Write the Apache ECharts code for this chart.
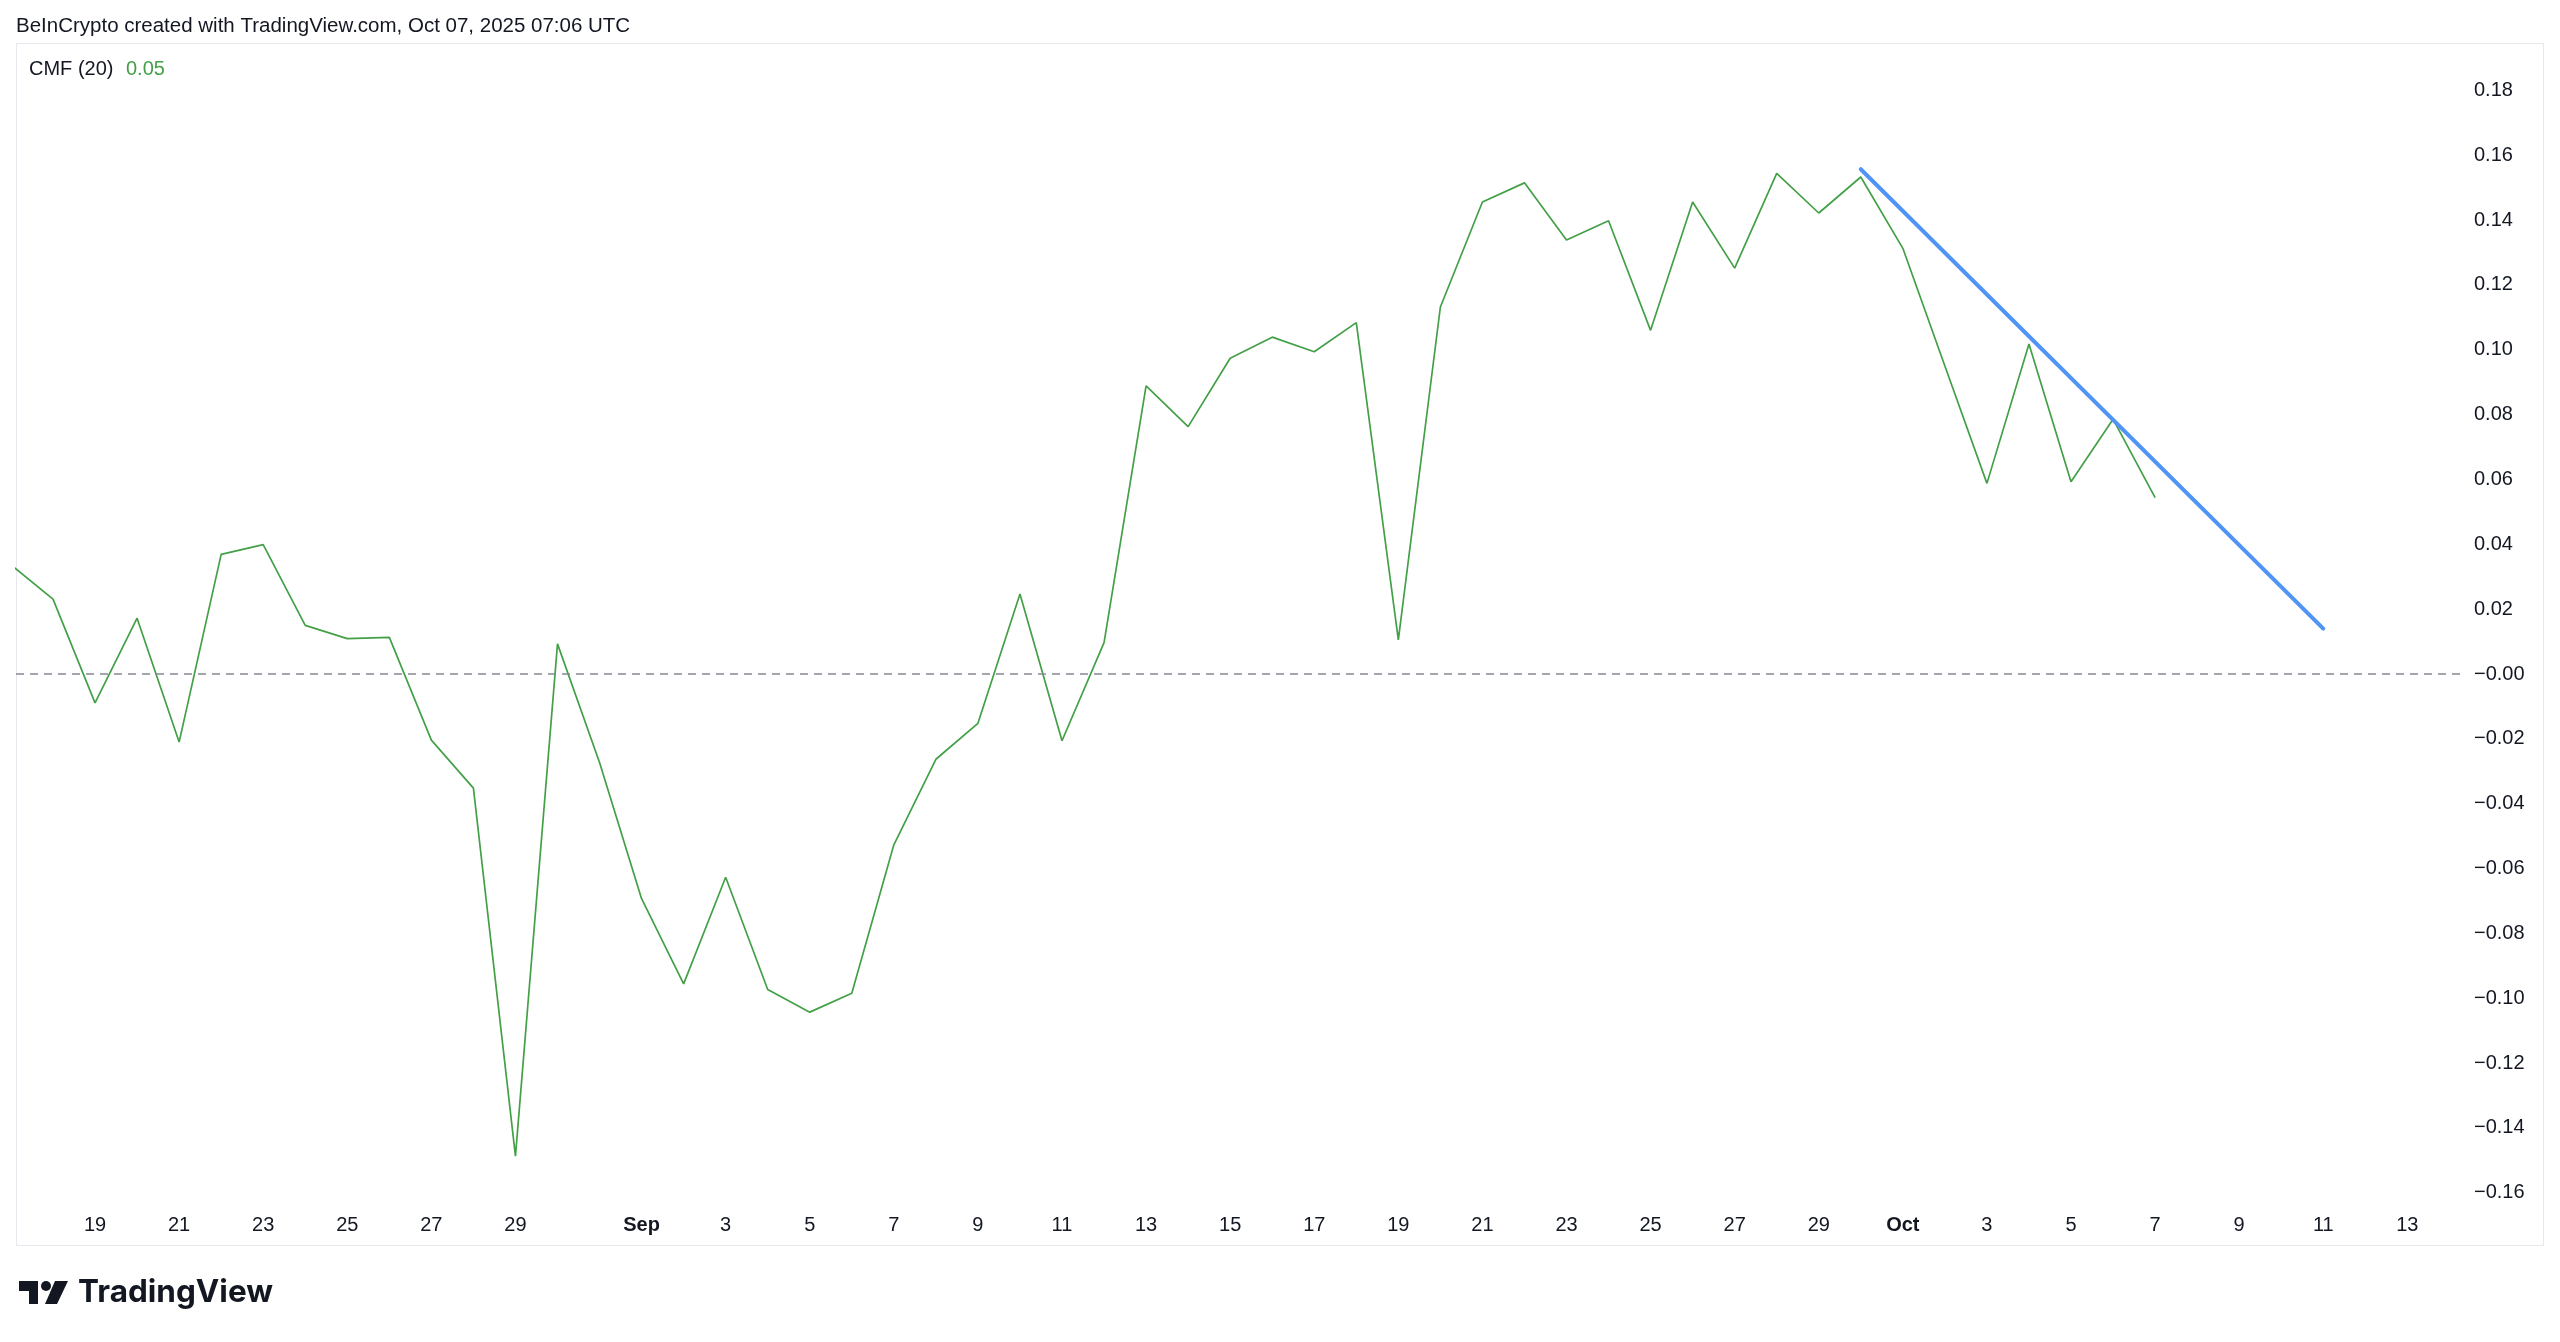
<!DOCTYPE html>
<html>
<head>
<meta charset="utf-8">
<script src="https://cdn.jsdelivr.net/npm/echarts@6/dist/echarts.min.js"></script>
<style>
html,body{margin:0;padding:0;background:#ffffff;}
#chart{width:2560px;height:1342px;}
</style>
</head>
<body>
<div id="chart"></div>
<script>
// ---- data ----
const dates = [
  '2025-08-17','2025-08-18','2025-08-19','2025-08-20','2025-08-21','2025-08-22','2025-08-23','2025-08-24',
  '2025-08-25','2025-08-26','2025-08-27','2025-08-28','2025-08-29','2025-08-30','2025-08-31',
  '2025-09-01','2025-09-02','2025-09-03','2025-09-04','2025-09-05','2025-09-06','2025-09-07','2025-09-08',
  '2025-09-09','2025-09-10','2025-09-11','2025-09-12','2025-09-13','2025-09-14','2025-09-15','2025-09-16',
  '2025-09-17','2025-09-18','2025-09-19','2025-09-20','2025-09-21','2025-09-22','2025-09-23','2025-09-24',
  '2025-09-25','2025-09-26','2025-09-27','2025-09-28','2025-09-29','2025-09-30',
  '2025-10-01','2025-10-02','2025-10-03','2025-10-04','2025-10-05','2025-10-06','2025-10-07'
];
const cmfValues = [
  0.0337, 0.0231, -0.0089, 0.0172, -0.0210, 0.0369, 0.0399, 0.0150,
  0.0109, 0.0113, -0.0204, -0.0352, -0.1487, 0.0093, -0.0273,
  -0.0693, -0.0956, -0.0627, -0.0973, -0.1043, -0.0985, -0.0527, -0.0263,
  -0.0152, 0.0247, -0.0206, 0.0097, 0.0889, 0.0763, 0.0974, 0.1039,
  0.0994, 0.1084, 0.0105, 0.1132, 0.1456, 0.1515, 0.1339, 0.1398,
  0.1060, 0.1456, 0.1252, 0.1544, 0.1422, 0.1533,
  0.1313, 0.0950, 0.0588, 0.1018, 0.0593, 0.0786, 0.0544
];
const trendDates = ['2025-09-30', '2025-10-11'];
const trendValues = [0.1557, 0.0140];
const xTickDates = [
  '2025-08-19','2025-08-21','2025-08-23','2025-08-25','2025-08-27','2025-08-29',
  '2025-09-01','2025-09-03','2025-09-05','2025-09-07','2025-09-09','2025-09-11','2025-09-13',
  '2025-09-15','2025-09-17','2025-09-19','2025-09-21','2025-09-23','2025-09-25','2025-09-27','2025-09-29',
  '2025-10-01','2025-10-03','2025-10-05','2025-10-07','2025-10-09','2025-10-11','2025-10-13'
];
const yTicks = [-0.16,-0.14,-0.12,-0.10,-0.08,-0.06,-0.04,-0.02,0,0.02,0.04,0.06,0.08,0.10,0.12,0.14,0.16,0.18];
const titleText = 'BeInCrypto created with TradingView.com, Oct 07, 2025 07:06 UTC';
const indicatorName = 'CMF (20)';
const indicatorValue = '0.05';
const monthNames = ['Jan','Feb','Mar','Apr','May','Jun','Jul','Aug','Sep','Oct','Nov','Dec'];

// ---- date helpers (x axis counts days from the first date) ----
const DAY = 86400000;
const toTs = s => Date.parse(s + 'T00:00:00Z');
const T0 = toTs(dates[0]);
const toDay = s => (toTs(s) - T0) / DAY;
const dayToDate = d => new Date(T0 + Math.round(d) * DAY);

// ---- layout ----
const xMin = 0.12;
const xMax = xMin + 58.18;
const FONT = '"Liberation Sans", Arial, sans-serif';
const TXT = '#131722';
const GREEN = '#43a047';

const chart = echarts.init(document.getElementById('chart'), null, {renderer: 'canvas'});

const option = {
  backgroundColor: '#ffffff',
  animation: false,
  grid: {left: 16, right: 98, top: 44, bottom: 137, containLabel: false},
  xAxis: {
    type: 'value',
    min: xMin,
    max: xMax,
    axisLine: {show: false},
    axisTick: {show: false},
    splitLine: {show: false},
    axisLabel: {
      customValues: xTickDates.map(toDay),
      color: TXT,
      fontSize: 20,
      fontFamily: FONT,
      margin: 10,
      formatter: function (v) {
        const d = dayToDate(v);
        if (d.getUTCDate() === 1) return '{b|' + monthNames[d.getUTCMonth()] + '}';
        return String(d.getUTCDate());
      },
      rich: {b: {fontWeight: 'bold', fontSize: 20, fontFamily: FONT, color: TXT}}
    }
  },
  yAxis: {
    type: 'value',
    position: 'right',
    min: -0.16379,
    max: 0.19433,
    axisLine: {show: false},
    axisTick: {show: false},
    splitLine: {show: false},
    axisLabel: {
      customValues: yTicks,
      color: TXT,
      fontSize: 20,
      fontFamily: FONT,
      margin: 12,
      align: 'left',
      formatter: function (v) {
        return (v <= 0 ? '\u2212' : '') + Math.abs(v).toFixed(2);
      }
    }
  },
  series: [
    {
      name: 'CMF',
      type: 'line',
      data: dates.map((d, i) => [toDay(d), cmfValues[i]]),
      showSymbol: false,
      symbol: 'none',
      lineStyle: {color: GREEN, width: 1.7},
      clip: true,
      markLine: {
        silent: true,
        symbol: 'none',
        label: {show: false},
        lineStyle: {color: '#868993', width: 1.5, type: [8, 6]},
        data: [{yAxis: 0}]
      }
    },
    {
      name: 'Trend',
      type: 'line',
      data: trendDates.map((d, i) => [toDay(d), trendValues[i]]),
      showSymbol: false,
      symbol: 'none',
      lineStyle: {color: '#5094f5', width: 4, cap: 'round'},
      z: 3
    }
  ],
  graphic: [
    {type: 'rect', shape: {x: 16.5, y: 43.5, width: 2527, height: 1202}, style: {fill: 'none', stroke: '#e6e8ee', lineWidth: 1}, silent: true, z: -1},
    {type: 'text', x: 16, y: 26, style: {text: titleText, font: '20.5px ' + FONT, fill: TXT, verticalAlign: 'middle'}},
    {type: 'text', x: 29, y: 69, style: {text: indicatorName, font: '20px ' + FONT, fill: TXT, verticalAlign: 'middle'}},
    {type: 'text', x: 126, y: 69, style: {text: indicatorValue, font: '20px ' + FONT, fill: GREEN, verticalAlign: 'middle'}},
    // TradingView logo
    {type: 'polygon', shape: {points: [[19,1281],[38,1281],[38,1304],[29,1304],[29,1291],[19,1291]]}, style: {fill: '#131722'}},
    {type: 'circle', shape: {cx: 46, cy: 1286, r: 5}, style: {fill: '#131722'}},
    {type: 'polygon', shape: {points: [[55,1281],[68,1281],[57,1304],[45,1304]]}, style: {fill: '#131722'}},
    {type: 'text', x: 78, y: 1293, style: {text: 'TradingView', font: 'bold 31.5px Inter, "Liberation Sans", Arial, sans-serif', fill: TXT, verticalAlign: 'middle'}}
  ]
};
chart.setOption(option);
</script>
</body>
</html>
